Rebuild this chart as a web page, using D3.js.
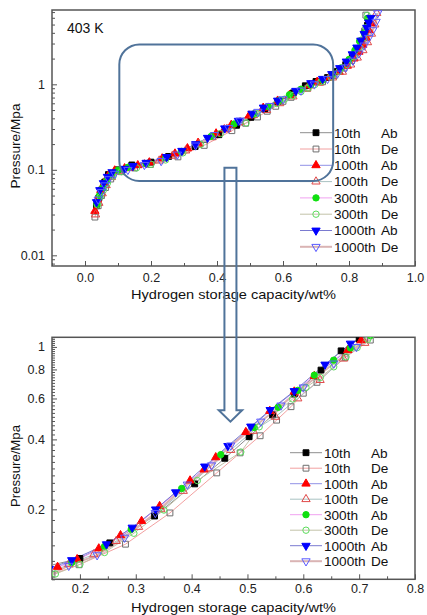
<!DOCTYPE html>
<html><head><meta charset="utf-8">
<script src="https://cdn.jsdelivr.net/npm/d3@7"></script>
<style>
body{margin:0;background:#fff;}
svg text{font-family:"Liberation Sans",Arial,Helvetica,sans-serif;}
</style></head><body>
<svg id="chart" width="427" height="615"></svg>
<script>
// PCT isotherms at 403 K: hydrogen storage capacity (wt%) vs pressure (MPa)
const seriesCycle = ["10th","10th","100th","100th","300th","300th","1000th","1000th"];
const seriesMode  = ["Ab","De","Ab","De","Ab","De","Ab","De"];

const cap10Ab = [0.035,0.042,0.05,0.06,0.071,0.1,0.142,0.2,0.2535,0.3337,0.4055,0.4594,0.503,0.545,0.5839,0.6317,0.6677,0.70,0.735,0.765,0.79,0.81,0.825,0.838,0.848,0.856,0.862];
const p10Ab   = [0.038,0.047,0.058,0.072,0.088,0.1,0.114,0.123,0.1435,0.1872,0.2574,0.3317,0.4107,0.51,0.627,0.795,0.962,1.08,1.2,1.42,1.7,2.1,2.6,3.2,4.0,4.9,5.8];

const cap10De = [0.03,0.04,0.05,0.062,0.078,0.11,0.15,0.1985,0.2816,0.3612,0.445,0.4868,0.5227,0.5522,0.578,0.6,0.6245,0.675,0.72,0.755,0.785,0.808,0.825,0.838,0.847,0.851];
const p10De   = [0.028,0.038,0.05,0.062,0.078,0.095,0.105,0.1155,0.1416,0.193,0.287,0.35,0.4146,0.484,0.553,0.632,0.704,0.901,1.07,1.27,1.55,1.9,2.4,3.1,4.2,6.45];

const cap100Ab = [0.03,0.038,0.048,0.058,0.07,0.09,0.12,0.16,0.195,0.2338,0.2727,0.3104,0.3427,0.3972,0.4223,0.4432,0.4971,0.54,0.5838,0.6197,0.6796,0.7035,0.74,0.77,0.795,0.815,0.83,0.842,0.852,0.86,0.868];
const p100Ab   = [0.033,0.045,0.058,0.07,0.085,0.098,0.104,0.113,0.122,0.1357,0.1547,0.1782,0.2065,0.266,0.2965,0.3348,0.43,0.53,0.642,0.749,0.968,1.068,1.2,1.4,1.65,2.0,2.4,2.9,3.5,4.3,5.2];

const cap100De = [0.032,0.042,0.052,0.064,0.08,0.105,0.14,0.18,0.225,0.265,0.305,0.345,0.385,0.43,0.47,0.51,0.55,0.59,0.63,0.672,0.71,0.75,0.78,0.805,0.825,0.842,0.856,0.868,0.878,0.884];
const p100De   = [0.03,0.041,0.053,0.066,0.082,0.096,0.105,0.116,0.128,0.146,0.168,0.2,0.24,0.3,0.36,0.435,0.5,0.6,0.72,0.89,1.04,1.2,1.4,1.7,2.05,2.5,3.1,3.9,5.0,6.8];

const cap300Ab = [0.036,0.044,0.054,0.066,0.08,0.1,0.13,0.1853,0.244,0.2918,0.3822,0.4522,0.512,0.555,0.59,0.6197,0.6544,0.6843,0.72,0.75,0.775,0.8,0.818,0.832,0.846,0.856];
const p300Ab   = [0.04,0.05,0.062,0.075,0.088,0.099,0.107,0.1181,0.1384,0.164,0.2459,0.344,0.45,0.55,0.65,0.756,0.877,0.99,1.12,1.3,1.55,1.95,2.5,3.2,3.98,5.9];

const cap300De = [0.038,0.046,0.056,0.068,0.085,0.11,0.156,0.2,0.244,0.2966,0.3504,0.4103,0.4881,0.521,0.5809,0.6048,0.6305,0.6545,0.6766,0.6964,0.7155,0.745,0.77,0.795,0.815,0.832,0.845,0.851,0.855];
const p300De   = [0.039,0.048,0.058,0.07,0.084,0.095,0.1054,0.116,0.1304,0.1578,0.1986,0.266,0.353,0.453,0.597,0.67,0.739,0.821,0.906,0.993,1.078,1.22,1.42,1.7,2.1,2.7,3.5,4.6,6.4];

const cap1000Ab = [0.035,0.045,0.056,0.068,0.082,0.12,0.145,0.1853,0.2476,0.2936,0.3355,0.3714,0.4235,0.465,0.506,0.5407,0.5838,0.6389,0.6844,0.72,0.748,0.772,0.792,0.81,0.824,0.836,0.846,0.854,0.86,0.866];
const p1000Ab   = [0.042,0.058,0.07,0.083,0.094,0.103,0.111,0.121,0.1416,0.167,0.2,0.237,0.306,0.375,0.4546,0.5356,0.646,0.84,1.034,1.16,1.32,1.55,1.85,2.25,2.7,3.25,3.9,4.6,5.3,6.0];

const cap1000De = [0.04,0.05,0.06,0.072,0.09,0.13,0.18,0.2308,0.2799,0.335,0.3924,0.4355,0.47,0.5239,0.56,0.6,0.6545,0.695,0.735,0.765,0.79,0.812,0.83,0.846,0.86,0.872,0.882,0.887];
const p1000De   = [0.045,0.055,0.066,0.078,0.09,0.1,0.1144,0.127,0.1512,0.193,0.2559,0.3094,0.377,0.4775,0.56,0.67,0.849,1.0,1.16,1.34,1.58,1.9,2.3,2.85,3.5,4.3,5.4,6.8];

// axis tick values
const topXMajor = [0,0.2,0.4,0.6,0.8,1.0];
const topXMinor = [-0.1,0.1,0.3,0.5,0.7,0.9];
const topYMajor = [0.01,0.1,1];
const topYLabels = ["0.01","0.1","1"];
const botXMajor = [0.2,0.3,0.4,0.5,0.6,0.7,0.8];
const botXMinor = [0.15,0.25,0.35,0.45,0.55,0.65,0.75];
const botYMajor = [0.2,0.4,0.6,0.8,1];
const botYLabels = ["0.2","0.4","0.6","0.8","1"];

const seriesCap = [cap10Ab,cap10De,cap100Ab,cap100De,cap300Ab,cap300De,cap1000Ab,cap1000De];
const seriesP   = [p10Ab,p10De,p100Ab,p100De,p300Ab,p300De,p1000Ab,p1000De];

// per-series appearance
const styles = [
  {line:"#8e8e8e", lw:1,   sym:"square",   fill:"#000",  stroke:"#000"},
  {line:"#f2a0a0", lw:1,   sym:"square",   fill:"none",  stroke:"#6e6e6e"},
  {line:"#9292e6", lw:1,   sym:"triUp",    fill:"#ff0000", stroke:"#ff0000"},
  {line:"#a9c2c2", lw:1,   sym:"triUp",    fill:"none",  stroke:"#e04848"},
  {line:"#f0a2f0", lw:1,   sym:"circle",   fill:"#10e010", stroke:"#10e010"},
  {line:"#c2c2a8", lw:1,   sym:"circle",   fill:"none",  stroke:"#5cdc5c"},
  {line:"#7a7ad0", lw:1,   sym:"triDown",  fill:"#0000ff", stroke:"#0000ff"},
  {line:"#dab4b4", lw:2,   sym:"triDown",  fill:"none",  stroke:"#5a5aff"}
];

const series = seriesCap.map((c,i)=>({
  cycle: seriesCycle[i], mode: seriesMode[i], style: styles[i],
  pts: c.map((v,j)=>({cap:v, p:seriesP[i][j]}))
}));

const svg = d3.select("#chart");
const FRAME = "#555";
const CALLOUT = "#50739a";

function symbolPath(name){
  if(name==="square") return d3.symbol(d3.symbolSquare, 34)();
  if(name==="circle") return d3.symbol(d3.symbolCircle, 32)();
  return d3.symbol(d3.symbolTriangle, 30)();
}
function symbolRot(name){ return name==="triDown" ? 180 : 0; }

function drawPanel(cfg){
  const g = svg.append("g");
  const x = d3.scaleLinear().domain(cfg.xDomain).range([cfg.left, cfg.right]);
  const y = d3.scaleLog().domain(cfg.yDomain).range([cfg.bottom, cfg.top]);
  const clipId = "clip-" + cfg.id;
  svg.append("clipPath").attr("id", clipId).append("rect")
    .attr("x", cfg.left).attr("y", cfg.top)
    .attr("width", cfg.right-cfg.left).attr("height", cfg.bottom-cfg.top);

  // axes with inward ticks
  const xMaj = d3.axisBottom(x).tickValues(cfg.xMajor).tickFormat(d3.format(".1f"))
    .tickSizeInner(-5).tickSizeOuter(0).tickPadding(cfg.xPad);
  const xMin = d3.axisBottom(x).tickValues(cfg.xMinor).tickFormat("")
    .tickSizeInner(-3).tickSizeOuter(0);
  const yMaj = d3.axisLeft(y).tickValues(cfg.yMajor).tickFormat((d,i)=>cfg.yLabels[i])
    .tickSizeInner(-5).tickSizeOuter(0).tickPadding(7);
  const yMin = d3.axisLeft(y).tickValues(cfg.yMinor).tickFormat("")
    .tickSizeInner(-3).tickSizeOuter(0);

  [xMin, xMaj].forEach(a=>{
    const ax = g.append("g").attr("transform",`translate(0,${cfg.bottom})`).call(a);
    ax.select(".domain").remove();
    ax.selectAll("line").attr("stroke",FRAME).attr("stroke-width",1);
    ax.selectAll("text").attr("font-size","12.5px").attr("fill","#222")
      .attr("font-family","Liberation Sans, Arial, sans-serif");
  });
  [yMin, yMaj].forEach(a=>{
    const ax = g.append("g").attr("transform",`translate(${cfg.left},0)`).call(a);
    ax.select(".domain").remove();
    ax.selectAll("line").attr("stroke",FRAME).attr("stroke-width",1);
    ax.selectAll("text").attr("font-size","12.5px").attr("fill","#222")
      .attr("font-family","Liberation Sans, Arial, sans-serif");
  });

  // frame
  g.append("rect").attr("x",cfg.left).attr("y",cfg.top)
    .attr("width",cfg.right-cfg.left).attr("height",cfg.bottom-cfg.top)
    .attr("fill","none").attr("stroke",FRAME).attr("stroke-width",1.5);

  // axis titles
  g.append("text").attr("x",(cfg.left+cfg.right)/2).attr("y",cfg.xTitleY)
    .attr("text-anchor","middle").attr("font-size","13px").attr("fill","#111")
    .attr("textLength",205).attr("lengthAdjust","spacingAndGlyphs")
    .text("Hydrogen storage capacity/wt%");
  g.append("text").attr("transform",`translate(20,${cfg.yTitleY}) rotate(-90)`)
    .attr("text-anchor","middle").attr("font-size","13px").attr("fill","#111")
    .attr("textLength",cfg.yTitleLen).attr("lengthAdjust","spacingAndGlyphs")
    .text("Pressure/Mpa");

  // series: connecting line then symbols
  const plot = g.append("g").attr("clip-path",`url(#${clipId})`);
  const line = d3.line().x(d=>x(d.cap)).y(d=>y(d.p));
  series.forEach(s=>{
    plot.append("path").datum(s.pts).attr("d",line).attr("fill","none")
      .attr("stroke",s.style.line).attr("stroke-width",s.style.lw);
  });
  series.forEach(s=>{
    plot.selectAll(null).data(s.pts).enter().append("path")
      .attr("d",symbolPath(s.style.sym))
      .attr("transform",d=>`translate(${x(d.cap)},${y(d.p)}) rotate(${symbolRot(s.style.sym)})`)
      .attr("fill",s.style.fill).attr("stroke",s.style.stroke).attr("stroke-width",1);
  });

  // legend
  const lg = g.append("g");
  series.forEach((s,i)=>{
    const ry = cfg.legY + i*cfg.legStep;
    lg.append("line").attr("x1",cfg.legX).attr("x2",cfg.legX+32).attr("y1",ry).attr("y2",ry)
      .attr("stroke",s.style.line).attr("stroke-width",s.style.lw);
    lg.append("path").attr("d",symbolPath(s.style.sym))
      .attr("transform",`translate(${cfg.legX+16},${ry}) rotate(${symbolRot(s.style.sym)})`)
      .attr("fill",s.style.fill).attr("stroke",s.style.stroke).attr("stroke-width",1);
    lg.append("text").attr("x",cfg.legX+34).attr("y",ry).attr("dy","0.36em")
      .attr("font-size","13.6px").attr("fill","#111").text(s.cycle);
    lg.append("text").attr("x",cfg.legX+81).attr("y",ry).attr("dy","0.36em")
      .attr("font-size","13.6px").attr("fill","#111").text(s.mode);
  });
  return {x,y};
}

function logMinor(lo, hi){
  const out=[];
  for(let e=-3;e<=1;e++) for(let m=2;m<=9;m++){ const v=m*Math.pow(10,e); if(v>=lo&&v<=hi) out.push(v); }
  return out;
}
// minor ticks of the lower panel every 0.02 MPa
const botYMinorTicks = [];
for(let k=10;k<=110;k+=2){ if(k%20!==0) botYMinorTicks.push(k/100); }

const topPanel = drawPanel({
  id:"top", left:52, right:415, top:10, bottom:266,
  xDomain:[-0.1,1.0], yDomain:[0.0075,7.4],
  xMajor:topXMajor, xMinor:topXMinor, yMajor:topYMajor, yLabels:topYLabels,
  yMinor:logMinor(0.0075,7.4), xPad:6.8,
  xTitleY:298.5, yTitleY:146, yTitleLen:85,
  legX:300, legY:132.7, legStep:16.3
});
const botPanel = drawPanel({
  id:"bot", left:52, right:415, top:337.3, bottom:579.3,
  xDomain:[0.15,0.8], yDomain:[0.1,1.1],
  xMajor:botXMajor, xMinor:botXMinor, yMajor:botYMajor, yLabels:botYLabels,
  yMinor:botYMinorTicks, xPad:5.3,
  xTitleY:611.5, yTitleY:466, yTitleLen:82,
  legX:290, legY:452.7, legStep:15.5
});

// temperature note
svg.append("text").attr("x",67).attr("y",33.3).attr("font-size","14px").attr("fill","#111").text("403 K");

// callout: zoom region on the upper isotherm and arrow to the lower panel
const zoomBox = {cap:[0.104,0.752], p:[0.074,2.93]};
svg.append("rect")
  .attr("x",topPanel.x(zoomBox.cap[0])).attr("y",topPanel.y(zoomBox.p[1]))
  .attr("width",topPanel.x(zoomBox.cap[1])-topPanel.x(zoomBox.cap[0]))
  .attr("height",topPanel.y(zoomBox.p[0])-topPanel.y(zoomBox.p[1]))
  .attr("rx",20).attr("ry",20).attr("fill","none").attr("stroke",CALLOUT).attr("stroke-width",2);

const arrowFrom = {cap:0.4407, p:0.106};
const arrowTo = {cap:0.47, p:0.477};
const ax0 = topPanel.x(arrowFrom.cap), ay0 = topPanel.y(arrowFrom.p), ay1 = botPanel.y(arrowTo.p);
const sw = 6, hw = 11.7, hl = 11.5;
svg.append("path")
  .attr("d",`M${ax0-sw},${ay0}L${ax0-sw},${ay1-hl}L${ax0-hw},${ay1-hl}L${ax0},${ay1}L${ax0+hw},${ay1-hl}L${ax0+sw},${ay1-hl}L${ax0+sw},${ay0}Z`)
  .attr("fill","none").attr("stroke",CALLOUT).attr("stroke-width",2).attr("stroke-linejoin","miter");
</script>
</body></html>
